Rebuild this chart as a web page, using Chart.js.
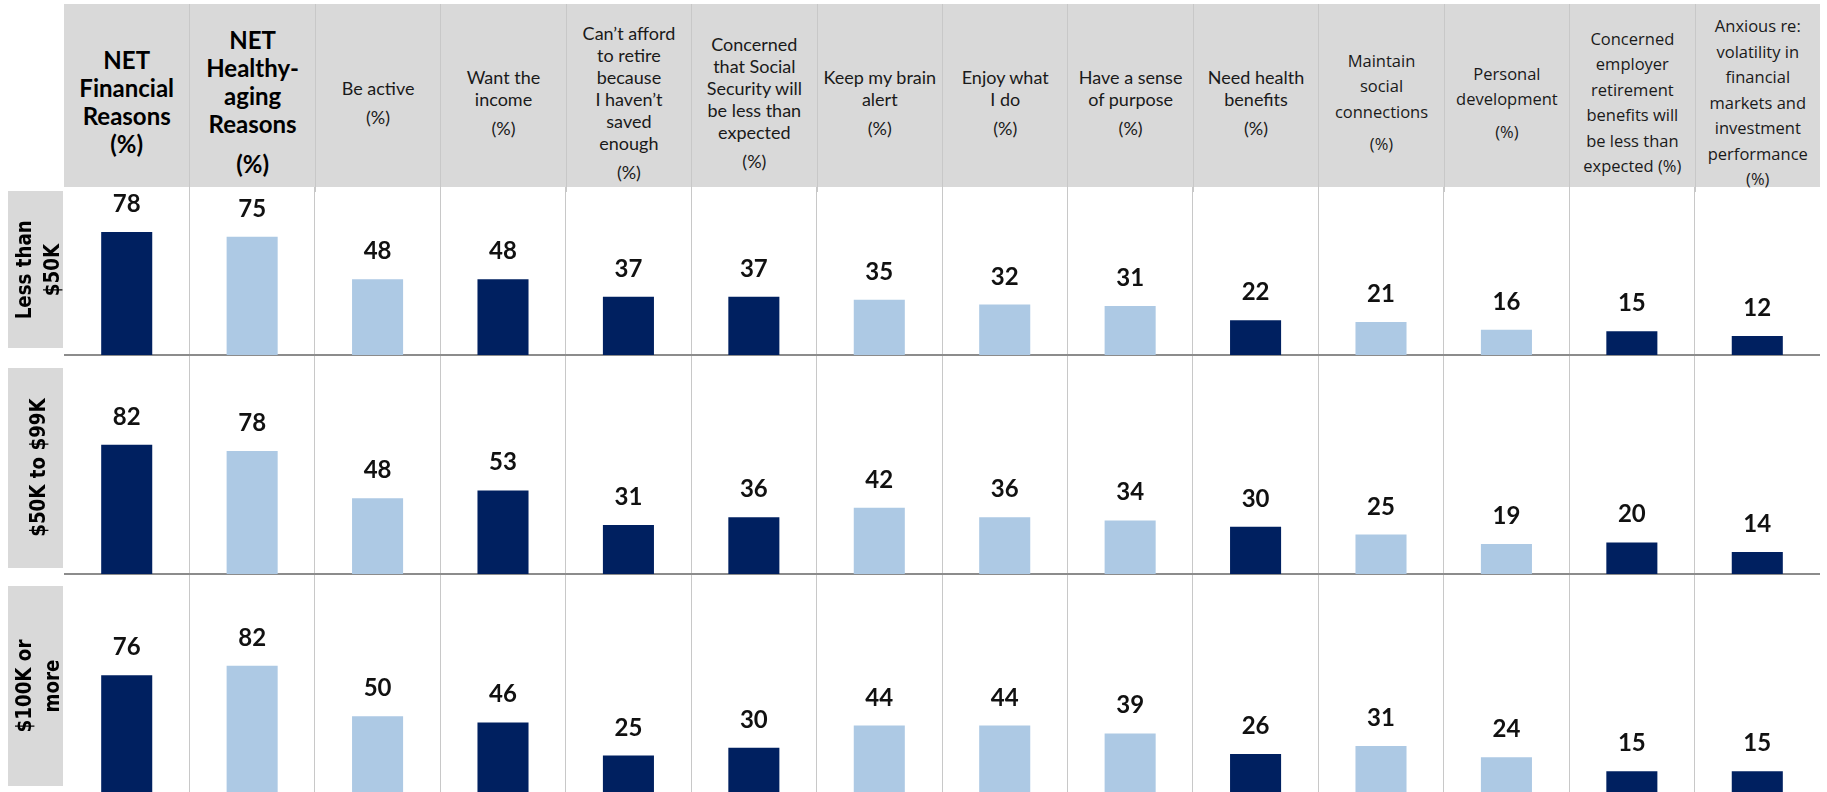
<!DOCTYPE html>
<html>
<head>
<meta charset="utf-8">
<script src="https://cdn.jsdelivr.net/npm/chart.js@4.4.1/dist/chart.umd.min.js"></script>
<style>
  html, body { margin: 0; padding: 0; background: #fff; }
  body { width: 1827px; height: 792px; overflow: hidden; position: relative; font-family: Lato, "Open Sans", sans-serif; color: #1a1a1a; }
  #header { position: absolute; left: 64px; top: 4px; width: 1756px; height: 183px; background: #D9D9D9;
            display: grid; grid-template-columns: repeat(14, 1fr); }
  .hcell { border-left: 1px solid #C8C8C8; display: flex; flex-direction: column; justify-content: center;
           align-items: center; text-align: center; padding-top: 9px; box-sizing: border-box; }
  .hcell:first-child { border-left: none; }
  .hcell div { font-size: 18px; line-height: 22px; white-space: nowrap; }
  .hcell.bold div { font-size: 24px; line-height: 28px; font-weight: bold; color: #000; }
  .hcell.alt div { font-family: "Open Sans", Lato, sans-serif; font-size: 16.5px; line-height: 25.5px; }
  .hcell div.gap { margin-top: 7px; }
  .hcell.bold div.gap { margin-top: 12px; }
  .rowbox { position: absolute; left: 8px; width: 55px; background: #D9D9D9; }
  .rowtext { position: absolute; display: flex; align-items: center; justify-content: center; flex-direction: column;
             font-family: "DejaVu Sans", sans-serif; font-weight: bold; font-size: 22px; line-height: 28px; color: #000;
             text-align: center; white-space: nowrap; }
  .rowtext span { display: block; transform: scaleX(0.83); }
  canvas { position: absolute; left: 64px; }
</style>
</head>
<body>
<div id="header"></div>
<canvas id="row0" width="1756" height="169" style="top:187px"></canvas>
<canvas id="row1" width="1756" height="219" style="top:356px"></canvas>
<canvas id="row2" width="1756" height="221" style="top:575px"></canvas>
<script>
// column headings, one array of lines per category
const categories = [
  ['NET', 'Financial', 'Reasons', '(%)'],
  ['NET', 'Healthy-', 'aging', 'Reasons', '(%)'],
  ['Be active', '(%)'],
  ['Want the', 'income', '(%)'],
  ['Can\u2019t afford', 'to retire', 'because', 'I haven\u2019t', 'saved', 'enough', '(%)'],
  ['Concerned', 'that Social', 'Security will', 'be less than', 'expected', '(%)'],
  ['Keep my brain', 'alert', '(%)'],
  ['Enjoy what', 'I do', '(%)'],
  ['Have a sense', 'of purpose', '(%)'],
  ['Need health', 'benefits', '(%)'],
  ['Maintain', 'social', 'connections', '(%)'],
  ['Personal', 'development', '(%)'],
  ['Concerned', 'employer', 'retirement', 'benefits will', 'be less than', 'expected (%)'],
  ['Anxious re:', 'volatility in', 'financial', 'markets and', 'investment', 'performance', '(%)']
];
// 'fin' = financial reason (dark), 'age' = healthy-aging reason (light)
const reasonType = ['fin', 'age', 'age', 'fin', 'fin', 'fin', 'age', 'age', 'age', 'fin', 'age', 'age', 'fin', 'fin'];

const rowLabels = [['Less than', '$50K'], ['$50K to $99K'], ['$100K or', 'more']];
const lessThan50K = [78, 75, 48, 48, 37, 37, 35, 32, 31, 22, 21, 16, 15, 12];
const from50Kto99K = [82, 78, 48, 53, 31, 36, 42, 36, 34, 30, 25, 19, 20, 14];
const over100K = [76, 82, 50, 46, 25, 30, 44, 44, 39, 26, 31, 24, 15, 15];
const rows = [lessThan50K, from50Kto99K, over100K];

const NAVY = '#002060';
const LIGHT = '#ADC9E4';
const PX_PER_UNIT = 1.577;

// header cells
const header = document.getElementById('header');
categories.forEach((lines, i) => {
  const cell = document.createElement('div');
  cell.className = 'hcell' + (i < 2 ? ' bold' : '') + (i >= 10 ? ' alt' : '');
  lines.forEach(t => {
    const d = document.createElement('div');
    d.textContent = t;
    if (t === '(%)' && i !== 0 && i !== 13) d.className = 'gap';
    cell.appendChild(d);
  });
  header.appendChild(cell);
});

// row label boxes
const boxes = [[191, 157], [368, 200], [586, 200]];
boxes.forEach(([top, h], r) => {
  const box = document.createElement('div');
  box.className = 'rowbox';
  box.style.top = top + 'px';
  box.style.height = h + 'px';
  document.body.appendChild(box);
  const txt = document.createElement('div');
  txt.className = 'rowtext';
  txt.style.width = h + 'px';
  txt.style.height = '60px';
  txt.style.left = (8 + 55 / 2 + 2 - h / 2) + 'px';
  txt.style.top = (top + h / 2 - 30) + 'px';
  txt.style.transform = 'rotate(-90deg)';
  rowLabels[r].forEach(t => {
    const s = document.createElement('span');
    s.textContent = t;
    txt.appendChild(s);
  });
  document.body.appendChild(txt);
});

const valueLabels = {
  id: 'valueLabels',
  afterDatasetsDraw(chart) {
    const ctx = chart.ctx;
    const meta = chart.getDatasetMeta(0);
    const data = chart.data.datasets[0].data;
    ctx.save();
    ctx.font = 'bold 24px Lato';
    ctx.fillStyle = '#111';
    ctx.textAlign = 'center';
    ctx.textBaseline = 'alphabetic';
    meta.data.forEach((bar, i) => ctx.fillText(String(data[i]), bar.x, bar.y - 20));
    ctx.restore();
  }
};

rows.forEach((values, r) => {
  const canvas = document.getElementById('row' + r);
  const h = canvas.height - 1;
  new Chart(canvas.getContext('2d'), {
    type: 'bar',
    data: {
      labels: categories.map(c => c.join(' ')),
      datasets: [{
        data: values,
        backgroundColor: reasonType.map(t => t === 'fin' ? NAVY : LIGHT),
        borderWidth: 0,
        categoryPercentage: 1,
        barPercentage: 0.407
      }]
    },
    options: {
      responsive: false,
      animation: false,
      layout: { padding: { bottom: 1 } },
      plugins: { legend: { display: false }, tooltip: { enabled: false } },
      scales: {
        x: {
          display: true,
          ticks: { display: false },
          grid: {
            offset: true,
            drawTicks: false,
            lineWidth: 1,
            color: ctx => ctx.index === 0 ? 'rgba(0,0,0,0)' : '#C8C8C8'
          },
          border: { display: true, color: '#8C8C8C', width: 2 }
        },
        y: { display: false, min: 0, max: h / PX_PER_UNIT }
      }
    },
    plugins: [valueLabels]
  });
});
</script>
</body>
</html>
